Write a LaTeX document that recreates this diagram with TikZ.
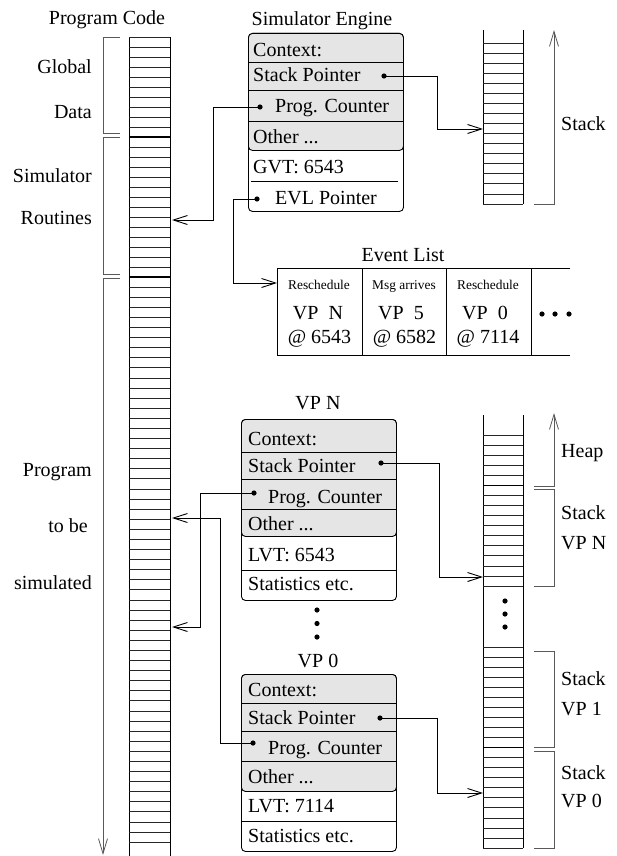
\documentclass[tikz,border=0pt]{standalone}
\usepackage{fontspec}
\setmainfont{Liberation Serif}
\usetikzlibrary{arrows.meta}
\definecolor{ctxgray}{gray}{0.9}
\definecolor{brkgray}{gray}{0.35}
\tikzset{
  txt/.style={inner sep=0pt, anchor=base, font=\fontsize{20}{24}\selectfont},
  txtw/.style={txt, anchor=base west},
  txte/.style={txt, anchor=base east},
  tiny/.style={inner sep=0pt, anchor=base, font=\fontsize{13.4}{16}\selectfont},
  tipA/.tip={Straight Barb[length=14pt,width=9pt,line width=0.9pt]},
  wire/.style={line width=0.9pt, -tipA},
  brk/.style={line width=0.8pt, draw=brkgray},
  wall/.style={line width=1pt},
  rowline/.style={line width=0.7pt, draw=black!85},
  sepline/.style={line width=1.05pt},
  boxout/.style={draw, line width=0.9pt, rounded corners=4pt, fill=white},
  boxctx/.style={draw, line width=0.9pt, rounded corners=4pt, fill=ctxgray},
  divider/.style={line width=0.8pt},
  pin/.style={fill=black}
}
\begin{document}
\begin{tikzpicture}[x=1pt, y=-1pt]
\useasboundingbox (0,0) rectangle (617,856);

% ---------- program code column ----------
\node[txt] (code-title) at (107,25) {Program Code};
\draw[wall] (129,37) -- (129,856);
\draw[wall] (170,37) -- (170,856);
\foreach \k in {0,...,24} \draw[rowline] (129,{37+10*\k}) -- (170,{37+10*\k});
\foreach \k in {1,...,56} \draw[rowline] (129,{277+10.09*\k}) -- (170,{277+10.09*\k});
\draw[sepline] (129,137) -- (170,137);
\draw[sepline] (129,277) -- (170,277);

% brackets of the program code
\draw[brk] (120,37) -- (103,37) -- (103,133) -- (120,133);
\draw[brk] (120,137) -- (103,137) -- (103,274) -- (120,274);
\draw[brk, -{Straight Barb[length=15pt,width=9pt,line width=0.8pt]}] (120,278) -- (103,278) -- (103,855);
\node[txte] (l-global) at (92,74) {Global};
\node[txte] (l-data) at (92,118.5) {Data};
\node[txte] (l-sim) at (92,182.5) {Simulator};
\node[txte] (l-rout) at (92,224.5) {Routines};
\node[txte] (l-prog) at (92,476.5) {Program};
\node[txte] (l-tobe) at (88,532) {to be};
\node[txte] (l-simd) at (92,589) {simulated};

% ---------- simulator engine ----------
\node[txt] (se-title) at (322,26) {Simulator Engine};
\node[boxout, minimum width=155pt, minimum height=178pt, anchor=north west] (se) at (248,33) {};
\node[boxctx, minimum width=155pt, minimum height=117pt, anchor=north west] (se-ctx) at (248,33) {};
\draw[divider] (248,62) -- (403,62);
\draw[divider] (248,90) -- (403,90);
\draw[divider] (248,121) -- (403,121);
\draw[divider] (251,181) -- (398,181);
\node[txtw] at (253,57) {Context:};
\node[txtw] at (253,82) {Stack Pointer};
\node[txtw] at (275,113) {Prog. Counter};
\node[txtw] at (253,143) {Other ...};
\node[txtw] at (253,173) {GVT: 6543};
\node[txtw] at (275,204) {EVL Pointer};
\coordinate (se-sp) at (384,76);
\coordinate (se-pc) at (260,107);
\coordinate (se-evl) at (257,199);

% ---------- stack of the engine ----------
\draw[wall] (483,30) -- (483,204);
\draw[wall] (523,30) -- (523,204);
\foreach \k in {0,...,16} \draw[rowline] (483,{43+10.06*\k}) -- (523,{43+10.06*\k});
\draw[brk, -{Straight Barb[length=15pt,width=9pt,line width=0.8pt]}] (534,204) -- (554,204) -- (554,30);
\node[txtw] (l-stack) at (561,130.6) {Stack};
\coordinate (stk-top-in) at (483,129);

% ---------- event list ----------
\node[txt] (evl-title) at (403,261) {Event List};
\draw[wall] (570,268) -- (277,268) -- (277,355) -- (570,355);
\foreach \xx in {362,446,531} \draw[wall] (\xx,268) -- (\xx,355);
\coordinate (evl-in) at (277,283);
\node[tiny] at (319,289.5) {Reschedule};
\node[tiny] at (404,289.5) {Msg arrives};
\node[tiny] at (488,289.5) {Reschedule};
\node[txt] at (318,319) {VP\ \ N};
\node[txt] at (401,319) {VP\ \ 5};
\node[txt] at (485,319) {VP\ \ 0};
\node[txt] at (319.5,343.5) {@ 6543};
\node[txt] at (404.5,343.5) {@ 6582};
\node[txt] at (488,343.5) {@ 7114};
\foreach \xx in {542,555,569} \fill (\xx,314) circle[radius=2.6pt];

% ---------- VP N ----------
\node[txt] (vpn-title) at (318,409) {VP N};
\node[boxout, minimum width=155pt, minimum height=181pt, anchor=north west] (vpn) at (241,419) {};
\node[boxctx, minimum width=155pt, minimum height=117pt, anchor=north west] (vpn-ctx) at (241,419) {};
\draw[divider] (241,452) -- (396,452);
\draw[divider] (241,479) -- (396,479);
\draw[divider] (241,509) -- (396,509);
\draw[divider] (241,570) -- (396,570);
\node[txtw] at (248,445.7) {Context:};
\node[txtw] at (248,472.3) {Stack Pointer};
\node[txtw] at (268,503.3) {Prog. Counter};
\node[txtw] at (248,530.7) {Other ...};
\node[txtw] at (248,561) {LVT: 6543};
\node[txtw] at (248,590) {Statistics etc.};
\coordinate (n-sp) at (381,463);
\coordinate (n-pc) at (254,493);

% dots between the processors
\foreach \yy in {610,623.5,637} \fill (317,\yy) circle[radius=2.6pt];

% ---------- VP 0 ----------
\node[txt] (vp0-title) at (318,667) {VP 0};
\node[boxout, minimum width=155pt, minimum height=177pt, anchor=north west] (vp0) at (241,674) {};
\node[boxctx, minimum width=155pt, minimum height=117pt, anchor=north west] (vp0-ctx) at (241,674) {};
\draw[divider] (241,703) -- (396,703);
\draw[divider] (241,731) -- (396,731);
\draw[divider] (241,761) -- (396,761);
\draw[divider] (241,821) -- (396,821);
\node[txtw] at (248,696.7) {Context:};
\node[txtw] at (248,724) {Stack Pointer};
\node[txtw] at (268,754) {Prog. Counter};
\node[txtw] at (248,783.3) {Other ...};
\node[txtw] at (248,812.7) {LVT: 7114};
\node[txtw] at (248,842.7) {Statistics etc.};
\coordinate (z-sp) at (380,718);
\coordinate (z-pc) at (253,743);

% ---------- memory of the processors ----------
\draw[wall] (483,415) -- (483,848);
\draw[wall] (523,415) -- (523,848);
\foreach \k in {0,...,15} \draw[rowline] (483,{435+10.07*\k}) -- (523,{435+10.07*\k});
\foreach \k in {0,...,20} \draw[rowline] (483,{647+10.05*\k}) -- (523,{647+10.05*\k});
\draw[sepline] (483,485.5) -- (523,485.5);
\draw[sepline] (483,747.5) -- (523,747.5);
\foreach \yy in {601,614,627} \fill (505,\yy) circle[radius=2.6pt];
\draw[brk, -{Straight Barb[length=15pt,width=9pt,line width=0.8pt]}] (534,486) -- (554,486) -- (554,413);
\draw[brk] (534,489) -- (554,489) -- (554,586) -- (534,586);
\draw[brk] (534,651) -- (554,651) -- (554,747) -- (534,747);
\draw[brk] (534,751) -- (554,751) -- (554,848) -- (534,848);
\node[txtw] (l-heap) at (561,457) {Heap};
\node[txtw] at (561,519) {Stack};
\node[txtw] at (561,549) {VP N};
\node[txtw] at (561,685) {Stack};
\node[txtw] at (561,715) {VP 1};
\node[txtw] at (561,779) {Stack};
\node[txtw] at (561,807) {VP 0};
\coordinate (stk-n-in) at (483,577);
\coordinate (stk-0-in) at (483,793);
\coordinate (code-se) at (172,220);
\coordinate (code-n) at (172,627);
\coordinate (code-0) at (172,518);

% ---------- pointers ----------
\foreach \p in {se-sp,se-pc,se-evl,n-sp,n-pc,z-sp,z-pc} \fill[pin] (\p) circle[radius=2.6pt];
\draw[wire] (se-sp) -- ++(53,0) |- (stk-top-in);
\draw[wire] (se-pc) -- ++(-47,0) |- (code-se);
\draw[wire] (se-evl) -- ++(-24,0) |- (evl-in);
\draw[wire] (n-sp) -- ++(58,0) |- (stk-n-in);
\draw[wire] (n-pc) -- ++(-54,0) |- (code-n);
\draw[wire] (z-sp) -- ++(57,0) |- (stk-0-in);
\draw[wire] (z-pc) -- ++(-33,0) |- (code-0);
\end{tikzpicture}
\end{document}
